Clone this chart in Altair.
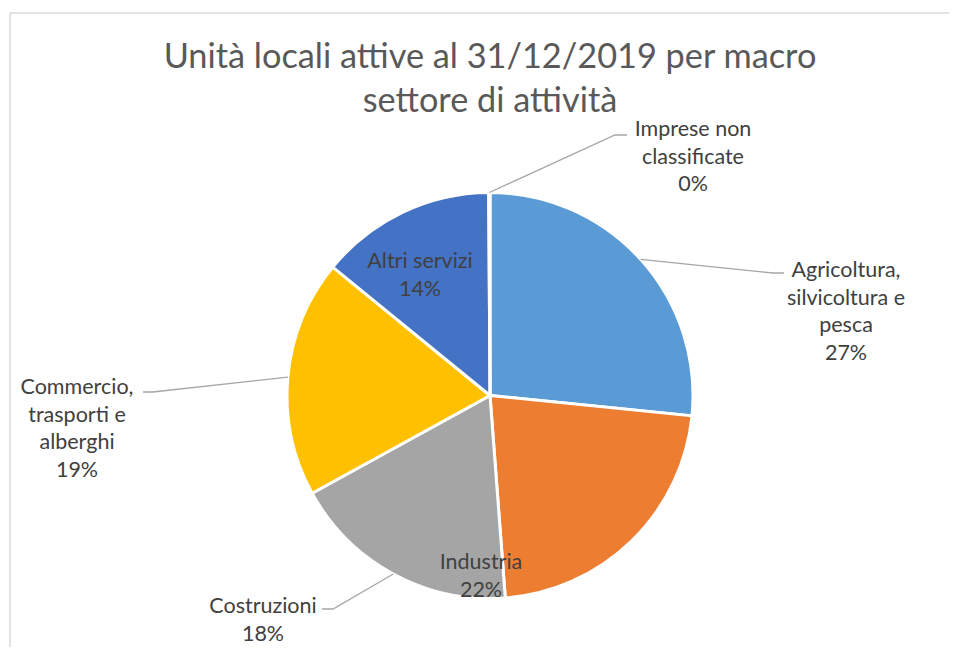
import math
import textwrap
import altair as alt
import pandas as pd

# ---------------- data ----------------
categories = [
    "Agricoltura, silvicoltura e pesca",
    "Industria",
    "Costruzioni",
    "Commercio, trasporti e alberghi",
    "Altri servizi",
    "Imprese non classificate",
]
values = [26.6, 22.2, 18.2, 18.9, 14.0, 0.1]  # share of local units (%)
colors = ["#5B9BD5", "#ED7D31", "#A5A5A5", "#FFC000", "#4472C4", "#70AD47"]
title_lines = ["Unità locali attive al 31/12/2019 per macro", "settore di attività"]

# ---------------- layout (page pixel coords) ----------------
W, H = 941, 639
def vx(x):
    return x - 8
def vy(y):
    return y - 8

CX, CY, R = vx(490), vy(395.5), 203
# label anchor: centre x, first-line middle y (page coords)
label_pos = {
    "Agricoltura, silvicoltura e pesca": (846, 271),
    "Industria": (481, 563),
    "Costruzioni": (263, 607),
    "Commercio, trasporti e alberghi": (77, 388),
    "Altri servizi": (420, 262),
    "Imprese non classificate": (693, 130),
}
# leader elbows / ends (page coords)
leader_pts = {
    "Agricoltura, silvicoltura e pesca": [(773, 273), (784, 273)],
    "Costruzioni": [(333, 609), (322, 609)],
    "Commercio, trasporti e alberghi": [(153, 392), (143, 392)],
    "Imprese non classificate": [(615, 135), (627, 135)],
}

total = sum(values)
pct = [round(v / total * 100) for v in values]
labels = ["\n".join(textwrap.wrap(c, 14) + [f"{p}%"]) for c, p in zip(categories, pct)]

df = pd.DataFrame({"category": categories, "value": values, "ord": list(range(len(categories)))})

lab_df = pd.DataFrame({
    "category": categories,
    "label": labels,
    "x": [vx(label_pos[c][0]) for c in categories],
    "y": [vy(label_pos[c][1]) for c in categories],
})

rows = []
cum = 0.0
for c, v in zip(categories, values):
    mid = (cum + v / 2) / total * 2 * math.pi
    cum += v
    if c in leader_pts:
        rows.append({"category": c, "seq": 0, "x": CX + R * math.sin(mid), "y": CY - R * math.cos(mid)})
        for i, (px, py) in enumerate(leader_pts[c]):
            rows.append({"category": c, "seq": i + 1, "x": vx(px), "y": vy(py)})
lead_df = pd.DataFrame(rows)

title_df = pd.DataFrame({"title": ["\n".join(title_lines)]})

FONT = "Lato"

pie = alt.Chart(df).mark_arc(outerRadius=R, stroke="white", strokeWidth=3).encode(
    theta=alt.Theta("value:Q", stack=True),
    order=alt.Order("ord:Q"),
    color=alt.Color("category:N", scale=alt.Scale(domain=categories, range=colors), legend=None),
    x=alt.value(CX),
    y=alt.value(CY),
)

leaders = alt.Chart(lead_df).mark_line(color="#A6A6A6", strokeWidth=1.3).encode(
    x=alt.X("x:Q", scale=None, axis=None),
    y=alt.Y("y:Q", scale=None, axis=None),
    detail="category:N",
    order="seq:Q",
)

texts = alt.Chart(lab_df).mark_text(
    font=FONT, fontSize=21.5, lineHeight=27.5, color="#404040",
    align="center", baseline="middle", lineBreak="\n",
).encode(
    x=alt.X("x:Q", scale=None, axis=None),
    y=alt.Y("y:Q", scale=None, axis=None),
    text="label:N",
)

title = alt.Chart(title_df).mark_text(
    font=FONT, fontSize=34.3, lineHeight=44, color="#595959",
    align="center", baseline="alphabetic", lineBreak="\n",
).encode(
    x=alt.value(vx(490)),
    y=alt.value(vy(68)),
    text="title:N",
)

frame_top = alt.Chart(df.head(1)).mark_rule(color="#D9D9D9", strokeWidth=1.5).encode(
    x=alt.value(vx(10)), x2=alt.value(W), y=alt.value(vy(13)), y2=alt.value(vy(13))
)
frame_left = alt.Chart(df.head(1)).mark_rule(color="#D9D9D9", strokeWidth=1.5).encode(
    x=alt.value(vx(10)), x2=alt.value(vx(10)), y=alt.value(vy(13)), y2=alt.value(H)
)

chart = alt.layer(frame_top, frame_left, title, pie, leaders, texts).properties(
    width=W,
    height=H,
    padding={"left": 0, "top": 0, "right": 0, "bottom": 0},
    autosize=alt.AutoSizeParams(type="none"),
).configure(background="white", view=alt.ViewConfig(stroke=None))

chart.save("out.html", embed_options={"renderer": "svg", "actions": False})
